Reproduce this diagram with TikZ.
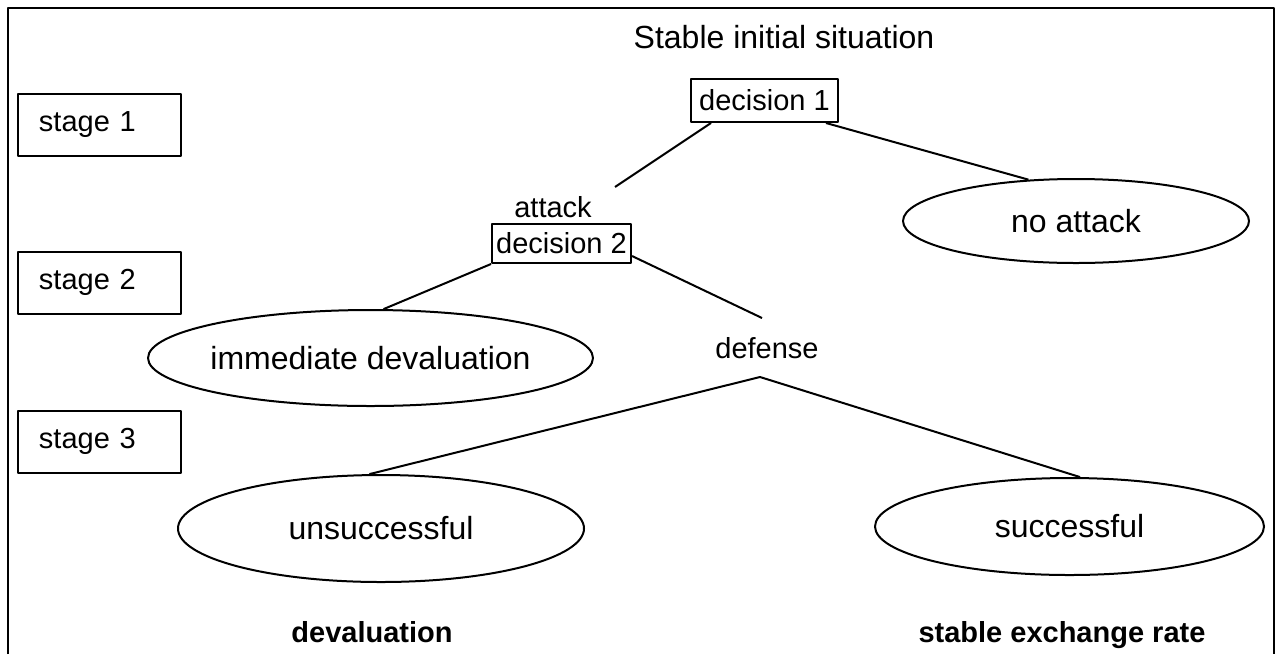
\documentclass[tikz,border=0pt]{standalone}
\usepackage{fontspec}
\setmainfont{Liberation Sans}
\usetikzlibrary{shapes.geometric}
\begin{document}
\begin{tikzpicture}[x=.5pt, y=-.5pt, line join=round, line width=1pt,
    small/.style={font=\fontsize{14.5}{17}\selectfont},
    big/.style={font=\fontsize{16}{19}\selectfont},
    stagebox/.style={draw, small, anchor=west, text width=60.5pt, align=left,
        inner xsep=10.5pt, inner ysep=0pt, minimum height=31pt},
    decbox/.style={draw, small, inner sep=1pt},
    outcome/.style={draw, ellipse, big, inner xsep=-4pt, inner ysep=0pt},
    result/.style={font=\fontsize{14.5}{17}\selectfont\bfseries, anchor=base}]
    \useasboundingbox (0,0) rectangle (1283,654);
    \draw[line width=1.4pt] (8,654) |- (1274,8) -- (1274,654);
    % stages
    \node[stagebox] (s1) at (17,125) {stage 1};
    \node[stagebox] (s2) at (17,282.5) {stage 2};
    \node[stagebox] (s3) at (17,441.5) {stage 3};
    % tree
    \node[big, anchor=base] (start) at (784,48) {Stable initial situation};
    \node[decbox, minimum width=73.5pt, minimum height=21.5pt] (d1) at (764.5,100.5) {decision 1};
    \node[small, anchor=base] (atk) at (553,217) {attack};
    \node[decbox, minimum width=69.5pt, minimum height=19.5pt] (d2) at (561.5,243.5) {decision 2};
    \node[outcome, minimum width=173pt, minimum height=42pt] (noatt) at (1076,221) {no attack};
    \node[outcome, minimum width=222.5pt, minimum height=48pt] (immdev) at (370.5,358) {immediate devaluation};
    \node[small, anchor=base] (def) at (767,358) {defense};
    \node[outcome, minimum width=203pt, minimum height=53.5pt] (unsucc) at (381,528.5) {unsuccessful};
    \node[outcome, minimum width=194.5pt, minimum height=48.5pt] (succ) at (1069.5,526.5) {successful};
    \node[result] (dev) at (372,642) {devaluation};
    \node[result] (stab) at (1062,642) {stable exchange rate};
    \coordinate (atkend) at (615,187);
    \coordinate (defin) at (762,318);
    \coordinate (defout) at (760,377);
    \draw ([xshift=10.5pt]d1.south west) -- (atkend);
    \draw ([xshift=-6.5pt]d1.south east) -- (noatt.139);
    \draw (d2.south west) -- (immdev.75);
    \draw ([yshift=4pt]d2.south east) -- (defin);
    \draw (unsucc.102) -- (defout) -- (succ.78);
\end{tikzpicture}
\end{document}
